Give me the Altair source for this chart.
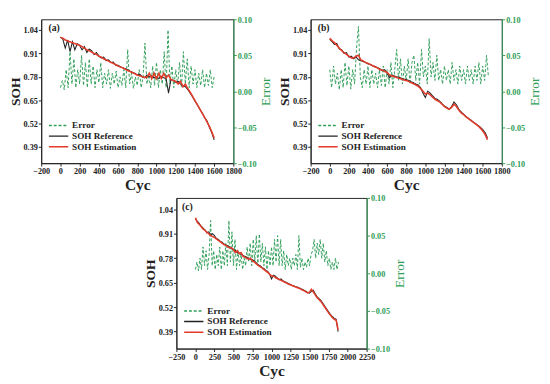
import altair as alt
import pandas as pd

FONT = "Liberation Serif"
GREEN = "#2f9e57"
BLACK = "#222222"
RED = "#e23b2a"
SERIES = ["Error", "SOH Reference", "SOH Estimation"]

# ---------------- panel (a) ----------------
a_ref = [1.00, 0.99, 0.94, 0.985, 0.92, 0.975, 0.93, 0.965, 0.955, 0.93, 0.948, 0.915, 0.935,
         0.925, 0.905, 0.915, 0.895, 0.885, 0.89, 0.87, 0.875, 0.86, 0.862, 0.845, 0.845, 0.835,
         0.83, 0.825, 0.82, 0.81, 0.805, 0.80, 0.79, 0.795, 0.78, 0.775, 0.79, 0.78, 0.785, 0.775,
         0.78, 0.77, 0.782, 0.775, 0.77, 0.69, 0.765, 0.76, 0.75, 0.755, 0.74, 0.73, 0.725, 0.71,
         0.69, 0.67, 0.645, 0.625, 0.60, 0.58, 0.555, 0.535, 0.50, 0.47, 0.43]
a_est = [1.00, 0.995, 0.985, 0.98, 0.975, 0.97, 0.965, 0.96, 0.955, 0.948, 0.94, 0.93, 0.925,
         0.918, 0.91, 0.905, 0.895, 0.89, 0.88, 0.875, 0.868, 0.86, 0.855, 0.848, 0.84, 0.835,
         0.83, 0.822, 0.815, 0.81, 0.803, 0.797, 0.79, 0.786, 0.782, 0.778, 0.776, 0.80, 0.77,
         0.80, 0.77, 0.80, 0.77, 0.80, 0.775, 0.79, 0.765, 0.76, 0.755, 0.74, 0.755, 0.725, 0.74,
         0.715, 0.695, 0.672, 0.648, 0.625, 0.602, 0.578, 0.555, 0.53, 0.505, 0.475, 0.44]
a_err = [0.005, 0.015, 0.002, 0.03, 0.005, 0.055, 0.01, 0.045, 0.005, 0.03, 0.01, 0.05, 0.008,
         0.04, 0.005, 0.045, 0.01, 0.035, 0.005, 0.03, 0.012, 0.04, 0.005, 0.025, 0.01, 0.03,
         0.004, 0.025, 0.01, 0.028, 0.005, 0.02, 0.008, 0.03, 0.005, 0.058, 0.01, 0.025, 0.004,
         0.02, 0.008, 0.03, 0.005, 0.02, 0.067, 0.01, 0.02, 0.005, 0.035, 0.008, 0.04, 0.005,
         0.03, 0.01, 0.055, 0.005, 0.085, 0.01, 0.035, 0.005, 0.03, 0.01, 0.04, 0.005, 0.055,
         0.01, 0.045, 0.005, 0.035, 0.01, 0.03, 0.005, 0.025, 0.008, 0.03, 0.005, 0.025, 0.008,
         0.03, 0.005, 0.02]

# ---------------- panel (b) ----------------
b_ref = [0.99, 0.975, 0.96, 0.965, 0.935, 0.93, 0.91, 0.915, 0.89, 0.895, 0.88, 0.89, 0.875,
         0.87, 0.865, 0.86, 0.852, 0.85, 0.84, 0.838, 0.83, 0.825, 0.815, 0.82, 0.80, 0.775,
         0.79, 0.785, 0.78, 0.778, 0.772, 0.768, 0.765, 0.76, 0.752, 0.748, 0.74, 0.735, 0.72,
         0.69, 0.665, 0.70, 0.69, 0.675, 0.66, 0.655, 0.645, 0.63, 0.617, 0.61, 0.60, 0.615,
         0.64, 0.625, 0.60, 0.585, 0.573, 0.56, 0.55, 0.54, 0.53, 0.52, 0.51, 0.50, 0.487, 0.47,
         0.44]
b_est = [0.995, 0.98, 0.97, 0.955, 0.94, 0.925, 0.915, 0.905, 0.895, 0.885, 0.885, 0.895, 0.90,
         0.875, 0.868, 0.86, 0.855, 0.848, 0.842, 0.835, 0.83, 0.82, 0.818, 0.81, 0.805, 0.79,
         0.785, 0.782, 0.776, 0.772, 0.768, 0.763, 0.76, 0.755, 0.748, 0.742, 0.735, 0.728,
         0.715, 0.70, 0.685, 0.69, 0.68, 0.668, 0.655, 0.648, 0.64, 0.628, 0.615, 0.606, 0.60,
         0.61, 0.628, 0.615, 0.595, 0.58, 0.57, 0.558, 0.548, 0.538, 0.528, 0.518, 0.508, 0.495,
         0.48, 0.46, 0.43]
b_err = [0.03, 0.005, 0.035, 0.01, 0.025, 0.002, 0.03, 0.005, 0.04, 0.008, 0.035, 0.003, 0.03,
         0.01, 0.06, 0.09, 0.02, 0.005, 0.03, 0.01, 0.035, 0.005, 0.03, 0.01, 0.025, 0.005, 0.03,
         0.008, 0.035, 0.005, 0.03, 0.01, 0.04, 0.005, 0.03, 0.058, 0.015, 0.045, 0.01, 0.035,
         0.015, 0.045, 0.01, 0.04, 0.05, 0.015, 0.04, 0.01, 0.058, 0.02, 0.035, 0.01, 0.073,
         0.02, 0.04, 0.015, 0.05, 0.015, 0.03, 0.01, 0.035, 0.015, 0.03, 0.01, 0.04, 0.015, 0.03,
         0.01, 0.035, 0.015, 0.03, 0.01, 0.035, 0.015, 0.03, 0.01, 0.035, 0.015, 0.04, 0.01,
         0.035, 0.015, 0.05, 0.02]

# ---------------- panel (c) ----------------
c_ref = [0.99, 0.975, 0.965, 0.95, 0.94, 0.93, 0.915, 0.92, 0.905, 0.91, 0.90, 0.885, 0.88,
         0.87, 0.865, 0.855, 0.85, 0.845, 0.84, 0.83, 0.828, 0.82, 0.81, 0.805, 0.80, 0.795,
         0.79, 0.785, 0.78, 0.775, 0.772, 0.765, 0.755, 0.745, 0.74, 0.73, 0.725, 0.715, 0.71,
         0.695, 0.67, 0.69, 0.685, 0.675, 0.665, 0.67, 0.66, 0.655, 0.65, 0.645, 0.64, 0.635,
         0.632, 0.628, 0.625, 0.62, 0.615, 0.61, 0.605, 0.598, 0.595, 0.605, 0.61, 0.59, 0.575,
         0.565, 0.555, 0.54, 0.525, 0.51, 0.495, 0.48, 0.47, 0.46, 0.455, 0.39]
c_est = [0.995, 0.97, 0.96, 0.948, 0.935, 0.928, 0.918, 0.91, 0.90, 0.895, 0.89, 0.882, 0.875,
         0.868, 0.86, 0.852, 0.848, 0.84, 0.835, 0.835, 0.825, 0.81, 0.82, 0.805, 0.81, 0.79,
         0.785, 0.78, 0.775, 0.78, 0.765, 0.76, 0.75, 0.742, 0.735, 0.728, 0.72, 0.712, 0.705,
         0.695, 0.685, 0.685, 0.678, 0.672, 0.668, 0.662, 0.658, 0.652, 0.648, 0.642, 0.638,
         0.634, 0.63, 0.626, 0.622, 0.618, 0.612, 0.608, 0.602, 0.596, 0.60, 0.615, 0.60, 0.585,
         0.57, 0.56, 0.55, 0.535, 0.52, 0.505, 0.49, 0.478, 0.465, 0.455, 0.45, 0.40]
c_err = [0.005, 0.015, 0.003, 0.02, 0.005, 0.035, 0.01, 0.03, 0.005, 0.025, 0.07, 0.01, 0.03,
         0.005, 0.025, 0.01, 0.035, 0.005, 0.03, 0.01, 0.04, 0.01, 0.07, 0.015, 0.055, 0.01,
         0.045, 0.005, 0.03, 0.01, 0.025, 0.005, 0.02, 0.01, 0.035, 0.015, 0.04, 0.01, 0.045,
         0.015, 0.05, 0.01, 0.052, 0.015, 0.04, 0.01, 0.035, 0.005, 0.03, 0.01, 0.035, 0.01,
         0.045, 0.015, 0.05, 0.01, 0.045, 0.01, 0.03, 0.005, 0.025, 0.01, 0.02, 0.005, 0.02,
         0.01, 0.025, 0.005, 0.05, 0.008, 0.02, 0.005, 0.015, 0.008, 0.02, 0.01, 0.025, 0.03,
         0.045, 0.02, 0.04, 0.025, 0.045, 0.02, 0.04, 0.015, 0.03, 0.01, 0.02, 0.005, 0.015,
         0.005, 0.02, 0.005, 0.015]

SOH_TICKS = [0.39, 0.52, 0.65, 0.78, 0.91, 1.04]
ERR_TICKS = [-0.10, -0.05, 0.00, 0.05, 0.10]
X_TICKS_AB = list(range(-200, 1801, 200))
X_TICKS_C = list(range(-250, 2251, 250))

AX = dict(labelOverlap=False, labelPadding=1, tickSize=3, grid=False, labelFontSize=8.5,
          labelFontWeight="bold", labelFont=FONT, titleFont=FONT)


def panel(label, lab_x, ref, est, err, soh_step, xdom, xticks, w, h):
    soh_cyc = [i * soh_step for i in range(len(ref))]
    err_cyc = [i * 20 for i in range(len(err))]
    ref_df = pd.DataFrame({"Cyc": soh_cyc, "SOH": ref, "series": "SOH Reference"})
    est_df = pd.DataFrame({"Cyc": soh_cyc, "SOH": est, "series": "SOH Estimation"})
    err_df = pd.DataFrame({"Cyc": err_cyc, "Error": err, "series": "Error"})

    x = alt.X("Cyc:Q", scale=alt.Scale(domain=xdom, nice=False, zero=False),
              axis=alt.Axis(values=xticks, tickCount=len(xticks), format="d",
                            labelFlush=False, title="Cyc", titleFontSize=16,
                            titleFontWeight="bold", titlePadding=2, domainColor=BLACK,
                            tickColor=BLACK, labelColor=BLACK, titleColor=BLACK, **AX))
    color = alt.Color("series:N", scale=alt.Scale(domain=SERIES, range=[GREEN, BLACK, RED]),
                      legend=alt.Legend(title=None, orient="bottom-left", offset=12,
                                        symbolType="M-2,0H2", symbolSize=100,
                                        symbolStrokeWidth=1.5, labelFont=FONT,
                                        labelFontSize=9.5, labelFontWeight="bold",
                                        labelColor=BLACK, rowPadding=0, labelOffset=8,
                                        padding=0))
    dash = alt.StrokeDash("series:N",
                          scale=alt.Scale(domain=SERIES, range=[[3, 2], [1, 0], [1, 0]]),
                          legend=alt.Legend(title=None, orient="bottom-left"))
    ysoh = alt.Y("SOH:Q", scale=alt.Scale(domain=[0.3, 1.1], nice=False, zero=False),
                 axis=alt.Axis(values=SOH_TICKS, tickCount=len(SOH_TICKS), format=".2f",
                               title="SOH", titleFontSize=14, titleFontWeight="bold",
                               titlePadding=1, domainColor=BLACK, tickColor=BLACK,
                               labelColor=BLACK, titleColor=BLACK, **AX))
    yerr = alt.Y("Error:Q", scale=alt.Scale(domain=[-0.1, 0.1], nice=False, zero=False),
                 axis=alt.Axis(orient="right", values=ERR_TICKS, tickCount=len(ERR_TICKS),
                               format=".2f", title="Error", titleFontSize=14,
                               titleFontWeight="normal", titleAngle=270, titleBaseline="top",
                               titlePadding=3, domainColor=GREEN, tickColor=GREEN,
                               labelColor=GREEN, titleColor=GREEN, **AX))

    ref_line = alt.Chart(ref_df).mark_line(strokeWidth=1.1).encode(
        x=x, y=ysoh, color=color, strokeDash=dash)
    est_line = alt.Chart(est_df).mark_line(strokeWidth=1.6).encode(
        x=x, y=ysoh, color=color, strokeDash=dash)
    tag = alt.Chart(pd.DataFrame({"t": [label]})).mark_text(
        align="left", baseline="middle", font=FONT, fontSize=10, fontWeight="bold",
        color=BLACK).encode(x=alt.XDatum(lab_x), y=alt.YDatum(1.05), text="t:N")
    err_line = alt.Chart(err_df).mark_line(strokeWidth=1).encode(
        x=x, y=yerr, color=color, strokeDash=dash)

    soh = alt.layer(ref_line, est_line, tag)
    return alt.layer(err_line, soh).resolve_scale(y="independent").properties(
        width=w, height=h)


pa = panel("(a)", -125, a_ref, a_est, a_err, 25, [-200, 1800], X_TICKS_AB, 199, 149)
pb = panel("(b)", -125, b_ref, b_est, b_err, 25, [-200, 1800], X_TICKS_AB, 198, 149)
pc = panel("(c)", -175, c_ref, c_est, c_err, 25, [-250, 2250], X_TICKS_C, 197, 156)

top = alt.hconcat(pa, pb, spacing=3).resolve_scale(color="independent",
                                                   strokeDash="independent")
chart = alt.vconcat(top, pc, spacing=0, center=True).resolve_scale(
    color="independent", strokeDash="independent").properties(padding=0).configure(
    font=FONT).configure_view(stroke=BLACK, strokeWidth=1)

chart.save("out.html", embed_options={"renderer": "svg", "actions": False})
